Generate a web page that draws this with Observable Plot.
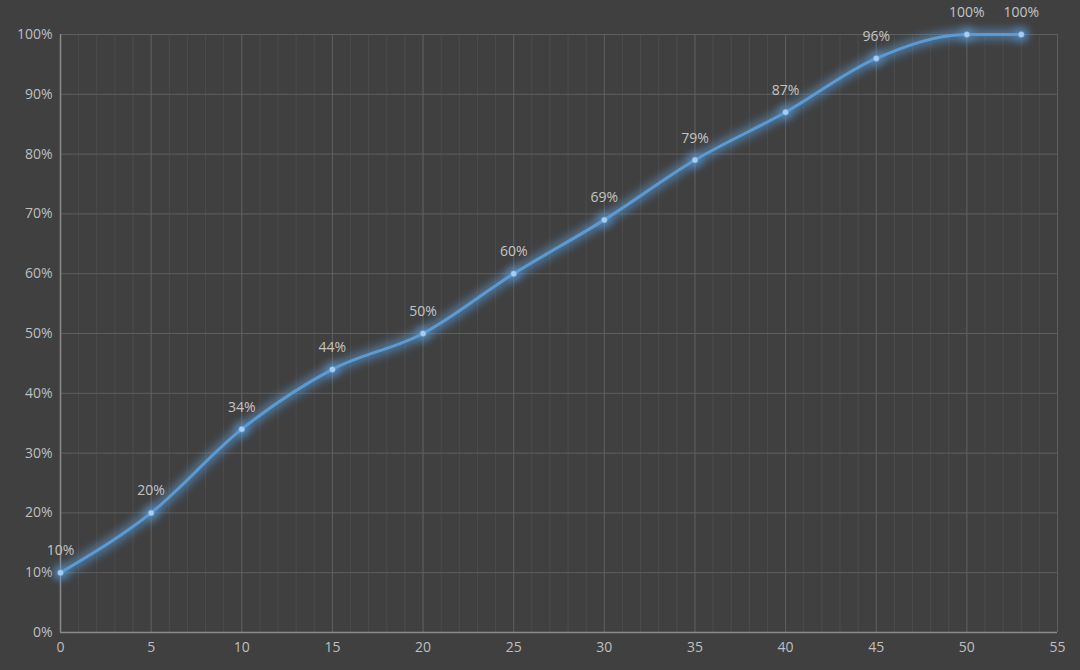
<!DOCTYPE html>
<html>
<head>
<meta charset="utf-8">
<script src="https://cdn.jsdelivr.net/npm/d3@7"></script>
<script src="https://cdn.jsdelivr.net/npm/@observablehq/plot@0.6"></script>
<style>
  html, body { margin: 0; padding: 0; background: #404040; }
  #chart { width: 1080px; height: 670px; }
</style>
</head>
<body>
<div id="chart"></div>
<script>
// datos
const xs = [0, 5, 10, 15, 20, 25, 30, 35, 40, 45, 50, 53]
const pct = [10, 20, 34, 44, 50, 60, 69, 79, 87, 96, 100, 100]
const xTicks = [0, 5, 10, 15, 20, 25, 30, 35, 40, 45, 50, 55]
const yTicks = [0, 10, 20, 30, 40, 50, 60, 70, 80, 90, 100]
const minorTicks = d3.range(0, 56)

const data = xs.map((x, i) => ({x, y: pct[i]}))

let chart = Plot.plot({
  width: 1080,
  height: 670,
  marginLeft: 60,
  marginRight: 23,
  marginTop: 34,
  marginBottom: 38,
  style: {background: "#404040", color: "#bfbfbf", fontSize: "14px", fontFamily: "Open Sans, sans-serif"},
  x: {domain: [0, 55], ticks: xTicks, tickSize: 0, tickPadding: 10, label: null},
  y: {domain: [0, 100], ticks: yTicks, tickSize: 0, tickPadding: 8, tickFormat: d => d + "%", label: null},
  marks: [
    Plot.ruleX(minorTicks, {stroke: "#4c4c4c", strokeWidth: 1}),
    Plot.ruleX(xTicks, {stroke: "#5e5e5e", strokeWidth: 1}),
    Plot.ruleY(yTicks, {stroke: "#5e5e5e", strokeWidth: 1}),
    Plot.ruleY([0], {stroke: "#8a8a8a", strokeWidth: 1.5}),
    Plot.ruleX([0], {stroke: "#8a8a8a", strokeWidth: 1.5}),
    // brillo
    Plot.line(data, {x: "x", y: "y", curve: "monotone-x", stroke: "#5b9bd5", strokeWidth: 10, strokeOpacity: 0.6}),
    Plot.dot(data, {x: "x", y: "y", r: 7, fill: "#5b9bd5", fillOpacity: 0.6}),
    Plot.line(data, {x: "x", y: "y", curve: "monotone-x", stroke: "#5b9bd5", strokeWidth: 3}),
    Plot.dot(data, {x: "x", y: "y", r: 3, fill: "#a9cdf0", stroke: "#5b9bd5", strokeWidth: 0.5}),
    Plot.text(data, {x: "x", y: "y", text: d => d.y + "%", dy: -22, fill: "#c4c4c4", fontSize: 14})
  ]
})

// filtro de desenfoque para el brillo
const svg = d3.select(chart)
svg.append("defs").append("filter")
  .attr("id", "glow").attr("x", "-20%").attr("y", "-20%").attr("width", "140%").attr("height", "140%")
  .append("feGaussianBlur").attr("stdDeviation", 4)
const lines = svg.selectAll('g[aria-label="line"]').nodes()
d3.select(lines[0]).attr("filter", "url(#glow)")
const dots = svg.selectAll('g[aria-label="dot"]').nodes()
d3.select(dots[0]).attr("filter", "url(#glow)")

d3.select('#chart').append(() => chart)
</script>
</body>
</html>
